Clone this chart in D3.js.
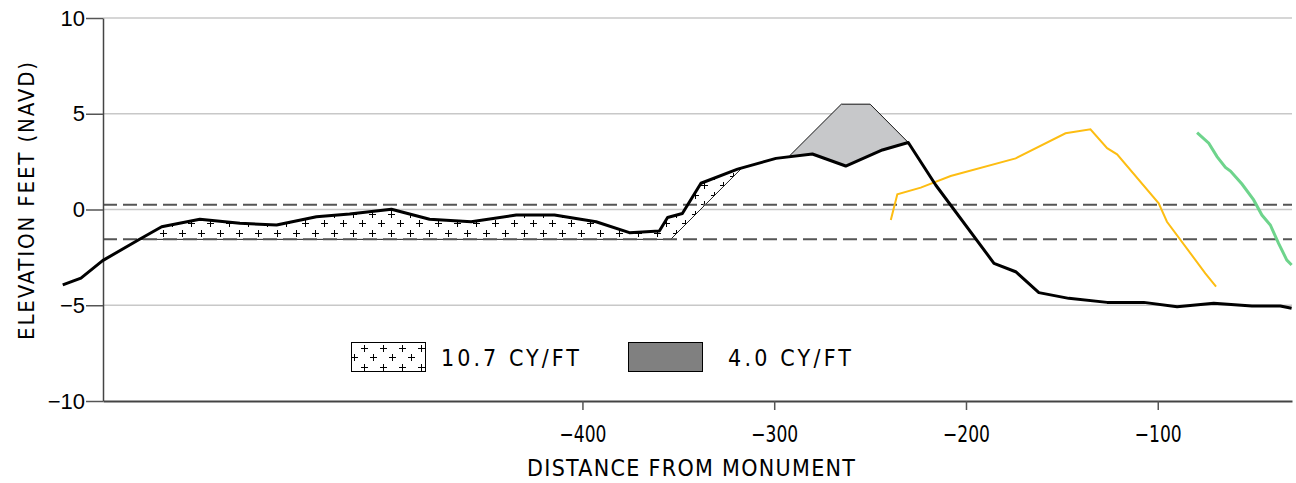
<!DOCTYPE html>
<html>
<head>
<meta charset="utf-8">
<script src="https://cdn.jsdelivr.net/npm/d3@7"></script>
<style>
  body { margin: 0; background: #fff; }
  .cad { font-family: "Liberation Sans Narrow", "DejaVu Sans Condensed", "DejaVu Sans", sans-serif; }
</style>
</head>
<body>
<div class="chart"></div>
<script>
// profile surveyed along the line (black)
var profileX = [-671, -661.5, -650.2, -631.6, -619.4, -599.5, -578.6, -559.5, -538.7, -521.4, -499.6,
  -479.7, -458, -434.5, -414.6, -392.9, -375.5, -359.9, -355.6, -347.9, -338.2, -319.1, -299.1,
  -280.1, -262.7, -243.6, -230.1, -215.8, -185.4, -174.1, -162, -146.4, -126.4, -107.3, -89.9,
  -70.8, -50.9, -36.1, -30.2];
var profileY = [-3.94, -3.58, -2.67, -1.59, -0.9, -0.51, -0.72, -0.81, -0.38, -0.23, 0.01,
  -0.51, -0.64, -0.29, -0.29, -0.64, -1.21, -1.12, -0.42, -0.21, 1.37, 2.11, 2.67,
  2.9, 2.27, 3.11, 3.5, 1.28, -2.81, -3.25, -4.34, -4.64, -4.85, -4.85, -5.08,
  -4.9, -5.04, -5.04, -5.16];

// other shorelines
var yellowX = [-239.2, -235.8, -223.6, -208, -174.1, -148.1, -135.1, -126.4, -121.2, -99.5, -95.2, -75.2, -69.6];
var yellowY = [-0.55, 0.79, 1.14, 1.75, 2.67, 3.98, 4.19, 3.2, 2.88, 0.32, -0.64, -3.33, -4.03];
var greenX = [-79.5, -73.4, -69.1, -64.7, -62.1, -56.1, -50, -45.7, -41.3, -37, -32.7, -30.2];
var greenY = [4.01, 3.46, 2.76, 2.2, 2.01, 1.33, 0.5, -0.29, -0.81, -1.77, -2.64, -2.9];

// fill templates
var beachTemplateX = [-632, -354, -317.3];
var beachTemplateY = [-1.56, -1.56, 2.12];
var duneTemplateX = [-292, -265, -250, -230.1];
var duneTemplateY = [2.8, 5.5, 5.5, 3.5];

// water levels
var mhw = 0.25;
var mlw = -1.55;

var xTicks = [-400, -300, -200, -100];
var yTicks = [-10, -5, 0, 5, 10];
var gridTicks = [-5, 0, 5, 10];
var legendLabels = ["10.7  CY/FT", "4.0  CY/FT"];

var svgWidth = 1296;
var svgHeight = 483;

var margin = { top: 18, right: 4, bottom: 82, left: 103 };
var width = svgWidth - margin.left - margin.right;
var height = svgHeight - margin.top - margin.bottom;

var svg = d3.select(".chart")
  .append("svg")
  .attr("width", svgWidth)
  .attr("height", svgHeight);

// plus-sign hatch
var defs = svg.append("defs");
var pat = defs.append("pattern")
  .attr("id", "plus")
  .attr("patternUnits", "userSpaceOnUse")
  .attr("width", 19)
  .attr("height", 19)
  .attr("x", 379)
  .attr("y", 230);
pat.append("rect").attr("width", 19).attr("height", 19).attr("fill", "#fff");
[[4.5, 4.5], [13.5, 13.5]].forEach(function(p) {
  pat.append("path")
    .attr("d", `M${p[0] - 3.5},${p[1]}h7M${p[0]},${p[1] - 3.5}v7`)
    .attr("stroke", "#000")
    .attr("stroke-width", 1)
    .attr("shape-rendering", "crispEdges");
});

var chartGroup = svg.append("g")
  .attr("transform", `translate(${margin.left}, ${margin.top})`);

var x = d3.scaleLinear().domain([-650, -30]).range([0, width]);
var y = d3.scaleLinear().domain([-10, 10]).range([height, 0]);

var line = d3.line().x(d => x(d[0])).y(d => y(d[1]));
var zip = (a, b) => a.map((v, i) => [v, b[i]]);

var profile = zip(profileX, profileY);

// gridlines
chartGroup.selectAll(".grid")
  .data(gridTicks)
  .enter()
  .append("line")
  .attr("x1", 0)
  .attr("x2", width)
  .attr("y1", d => y(d))
  .attr("y2", d => y(d))
  .attr("stroke", "#c8c8c8")
  .attr("stroke-width", 1.5);

// beach fill (pattern)
var beachT = zip(beachTemplateX, beachTemplateY);
var beachPoly = beachT.concat(profile.filter(p => p[0] > -632 && p[0] < -317.3).reverse());
chartGroup.append("path")
  .attr("d", line(beachPoly) + "Z")
  .attr("fill", "url(#plus)");
chartGroup.append("path")
  .attr("d", line(beachT))
  .attr("fill", "none")
  .attr("stroke", "#222")
  .attr("stroke-width", 1);

// dune fill (gray)
var duneT = zip(duneTemplateX, duneTemplateY);
var dunePoly = duneT.concat(profile.filter(p => p[0] > -292 && p[0] < -230.1).reverse());
chartGroup.append("path")
  .attr("d", line(dunePoly) + "Z")
  .attr("fill", "#c7c8ca");
chartGroup.append("path")
  .attr("d", line(duneT))
  .attr("fill", "none")
  .attr("stroke", "#111")
  .attr("stroke-width", 1);

// water levels
chartGroup.selectAll(".wl")
  .data([mhw, mlw])
  .enter()
  .append("line")
  .attr("x1", 0)
  .attr("x2", width)
  .attr("y1", d => y(d))
  .attr("y2", d => y(d))
  .attr("stroke", "#555")
  .attr("stroke-width", 2)
  .attr("stroke-dasharray", "14,6");

// axes
var bottomAxis = d3.axisBottom(x).tickValues(xTicks).tickSize(9).tickSizeOuter(0).tickPadding(16)
  .tickFormat(d => d3.format("d")(d).replace("-", "\u2212"));
var leftAxis = d3.axisLeft(y).tickValues(yTicks).tickSize(17).tickSizeOuter(0).tickPadding(1)
  .tickFormat(d => String(d).replace("-", "\u2212"));

var xg = chartGroup.append("g")
  .attr("transform", `translate(0, ${height})`)
  .call(bottomAxis);
xg.select(".domain").attr("stroke", "#444").attr("stroke-width", 2);
xg.selectAll(".tick line").attr("stroke", "#555").attr("stroke-width", 1.5);
xg.selectAll("text")
  .attr("class", "cad")
  .attr("font-size", 23)
  .attr("fill", "#000")
  .attr("textLength", 47)
  .attr("lengthAdjust", "spacingAndGlyphs");

var yg = chartGroup.append("g").call(leftAxis);
yg.select(".domain").attr("stroke", "#444").attr("stroke-width", 1.5);
yg.selectAll(".tick line").attr("stroke", "#555").attr("stroke-width", 1.5);
yg.selectAll("text")
  .attr("font-family", "'Liberation Sans', Arial, sans-serif")
  .attr("font-size", 22)
  .attr("fill", "#000");

// survey lines
chartGroup.append("path")
  .attr("d", line(zip(yellowX, yellowY)))
  .attr("fill", "none")
  .attr("stroke", "#fdbd12")
  .attr("stroke-width", 2);
chartGroup.append("path")
  .attr("d", line(zip(greenX, greenY)))
  .attr("fill", "none")
  .attr("stroke", "#6ed48c")
  .attr("stroke-width", 3);
chartGroup.append("path")
  .attr("d", line(profile))
  .attr("fill", "none")
  .attr("stroke", "#000")
  .attr("stroke-width", 3)
  .attr("stroke-linejoin", "round");

// axis titles
svg.append("text")
  .attr("class", "cad")
  .attr("transform", "translate(34, 201) rotate(-90)")
  .attr("text-anchor", "middle")
  .attr("font-size", 22)
  .attr("textLength", 278)
  .attr("lengthAdjust", "spacing")
  .text("ELEVATION  FEET  (NAVD)");

svg.append("text")
  .attr("class", "cad")
  .attr("x", 691)
  .attr("y", 476)
  .attr("text-anchor", "middle")
  .attr("font-size", 23)
  .attr("textLength", 328)
  .attr("lengthAdjust", "spacing")
  .text("DISTANCE  FROM  MONUMENT");

// legend
svg.append("rect")
  .attr("x", 351.5).attr("y", 342.5).attr("width", 74).attr("height", 29)
  .attr("fill", "url(#plus)").attr("stroke", "#000").attr("stroke-width", 1);
svg.append("rect")
  .attr("x", 628.5).attr("y", 342.5).attr("width", 74).attr("height", 29)
  .attr("fill", "#808080").attr("stroke", "#000").attr("stroke-width", 1);

svg.selectAll(".legtext")
  .data(legendLabels)
  .enter()
  .append("text")
  .attr("class", "cad")
  .attr("x", (d, i) => i ? 728 : 441)
  .attr("y", 366)
  .attr("font-size", 23)
  .attr("textLength", (d, i) => i ? 123 : 138)
  .attr("lengthAdjust", "spacing")
  .text(d => d);
</script>
</body>
</html>
